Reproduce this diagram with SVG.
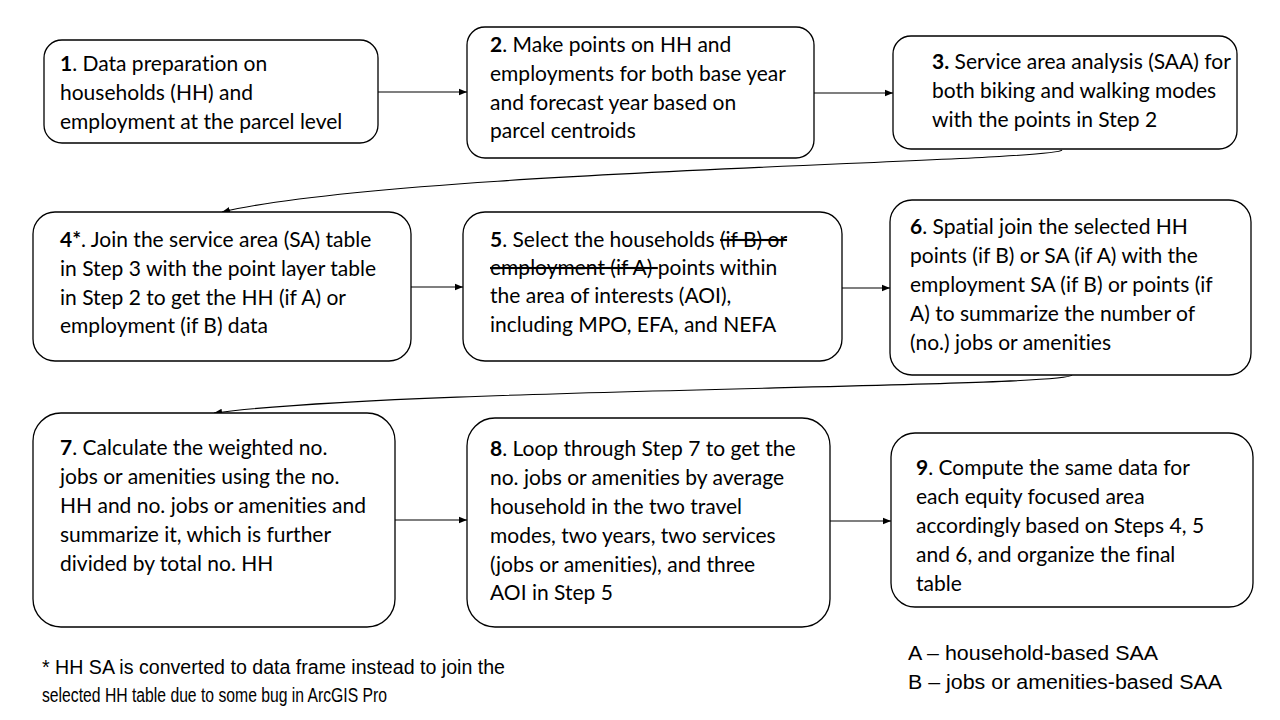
<svg xmlns="http://www.w3.org/2000/svg" width="1280" height="720" viewBox="0 0 1280 720">
<defs>
<marker id="ah" viewBox="0 0 10 10" refX="10" refY="5" markerWidth="8" markerHeight="8" markerUnits="userSpaceOnUse" orient="auto">
<path d="M0,1 L10,5 L0,9 z" fill="#000"/>
</marker>
<style>
.box{fill:#fff;stroke:#000;stroke-width:1.3}
.t{font-family:Lato,"Liberation Sans",sans-serif;font-size:21px;fill:#000;font-variant-ligatures:none}
.b{font-weight:bold}
.s{text-decoration:line-through}
.c{fill:none;stroke:#000;stroke-width:1.1;marker-end:url(#ah)}
.n{font-family:"Liberation Sans Narrow","Liberation Sans",sans-serif;font-size:20px;fill:#000}
</style>
</defs>
<rect width="1280" height="720" fill="#fff"/>
<g id="connectors">
<path class="c" d="M378,92 L467,92"/>
<path class="c" d="M814,93 L893,93"/>
<path class="c" d="M1062,150 C1055,162 400,170 222,212"/>
<path class="c" d="M411,287 L463,287"/>
<path class="c" d="M842,288 L890,288"/>
<path class="c" d="M1072,375 C1065,388 400,388 214,413"/>
<path class="c" d="M395,520 L467,520"/>
<path class="c" d="M830,521 L891,521"/>
</g>
<g id="n1">
<rect class="box" x="44" y="40" width="334" height="103" rx="18"/>
<text class="t"><tspan x="60" y="71"><tspan class="b">1</tspan>. Data preparation on</tspan><tspan x="60" y="100">households (HH) and</tspan><tspan x="60" y="129">employment at the parcel level</tspan></text>
</g>
<g id="n2">
<rect class="box" x="467" y="27" width="347" height="131" rx="18"/>
<text class="t"><tspan x="490" y="52"><tspan class="b">2</tspan>. Make points on HH and</tspan><tspan x="490" y="81">employments for both base year</tspan><tspan x="490" y="110">and forecast year based on</tspan><tspan x="490" y="138">parcel centroids</tspan></text>
</g>
<g id="n3">
<rect class="box" x="893" y="36" width="344" height="113" rx="18"/>
<text class="t"><tspan x="932" y="69"><tspan class="b">3.</tspan> Service area analysis (SAA) for</tspan><tspan x="932" y="98">both biking and walking modes</tspan><tspan x="932" y="127">with the points in Step 2</tspan></text>
</g>
<g id="n4">
<rect class="box" x="33" y="212" width="378" height="149" rx="22"/>
<text class="t"><tspan x="60" y="247"><tspan class="b">4*</tspan>. Join the service area (SA) table</tspan><tspan x="60" y="276">in Step 3 with the point layer table</tspan><tspan x="60" y="305">in Step 2 to get the HH (if A) or</tspan><tspan x="60" y="333">employment (if B) data</tspan></text>
</g>
<g id="n5">
<rect class="box" x="463" y="212" width="379" height="149" rx="22"/>
<text class="t"><tspan x="490" y="247"><tspan class="b">5</tspan>. Select the households <tspan class="s">(if B) or</tspan></tspan><tspan x="490" y="275"><tspan class="s">employment (if A) </tspan>points within</tspan><tspan x="490" y="303">the area of interests (AOI),</tspan><tspan x="490" y="332">including MPO, EFA, and NEFA</tspan></text>
</g>
<g id="n6">
<rect class="box" x="890" y="200" width="361" height="175" rx="22"/>
<text class="t"><tspan x="910" y="234"><tspan class="b">6</tspan>. Spatial join the selected HH</tspan><tspan x="910" y="263">points (if B) or SA (if A) with the</tspan><tspan x="910" y="292">employment SA (if B) or points (if</tspan><tspan x="910" y="321">A) to summarize the number of</tspan><tspan x="910" y="350">(no.) jobs or amenities</tspan></text>
</g>
<g id="n7">
<rect class="box" x="33" y="413" width="362" height="214" rx="28"/>
<text class="t"><tspan x="60" y="455"><tspan class="b">7</tspan>. Calculate the weighted no.</tspan><tspan x="60" y="484">jobs or amenities using the no.</tspan><tspan x="60" y="513">HH and no. jobs or amenities and</tspan><tspan x="60" y="542">summarize it, which is further</tspan><tspan x="60" y="571">divided by total no. HH</tspan></text>
</g>
<g id="n8">
<rect class="box" x="467" y="418" width="363" height="209" rx="28"/>
<text class="t"><tspan x="490" y="456"><tspan class="b">8</tspan>. Loop through Step 7 to get the</tspan><tspan x="490" y="485">no. jobs or amenities by average</tspan><tspan x="490" y="514">household in the two travel</tspan><tspan x="490" y="543">modes, two years, two services</tspan><tspan x="490" y="572">(jobs or amenities), and three</tspan><tspan x="490" y="600">AOI in Step 5</tspan></text>
</g>
<g id="n9">
<rect class="box" x="891" y="433" width="362" height="174" rx="24"/>
<text class="t"><tspan x="916" y="475"><tspan class="b">9</tspan>. Compute the same data for</tspan><tspan x="916" y="504">each equity focused area</tspan><tspan x="916" y="533">accordingly based on Steps 4, 5</tspan><tspan x="916" y="562">and 6, and organize the final</tspan><tspan x="916" y="591">table</tspan></text>
</g>
<g id="notes">
<text class="n" x="42" y="674" textLength="463" lengthAdjust="spacingAndGlyphs">* HH SA is converted to data frame instead to join the</text>
<text class="n" x="42" y="702" textLength="345" lengthAdjust="spacingAndGlyphs">selected HH table due to some bug in ArcGIS Pro</text>
<text class="n" x="908" y="660" textLength="250" lengthAdjust="spacingAndGlyphs">A – household-based SAA</text>
<text class="n" x="908" y="689" textLength="314" lengthAdjust="spacingAndGlyphs">B – jobs or amenities-based SAA</text>
</g>
</svg>
